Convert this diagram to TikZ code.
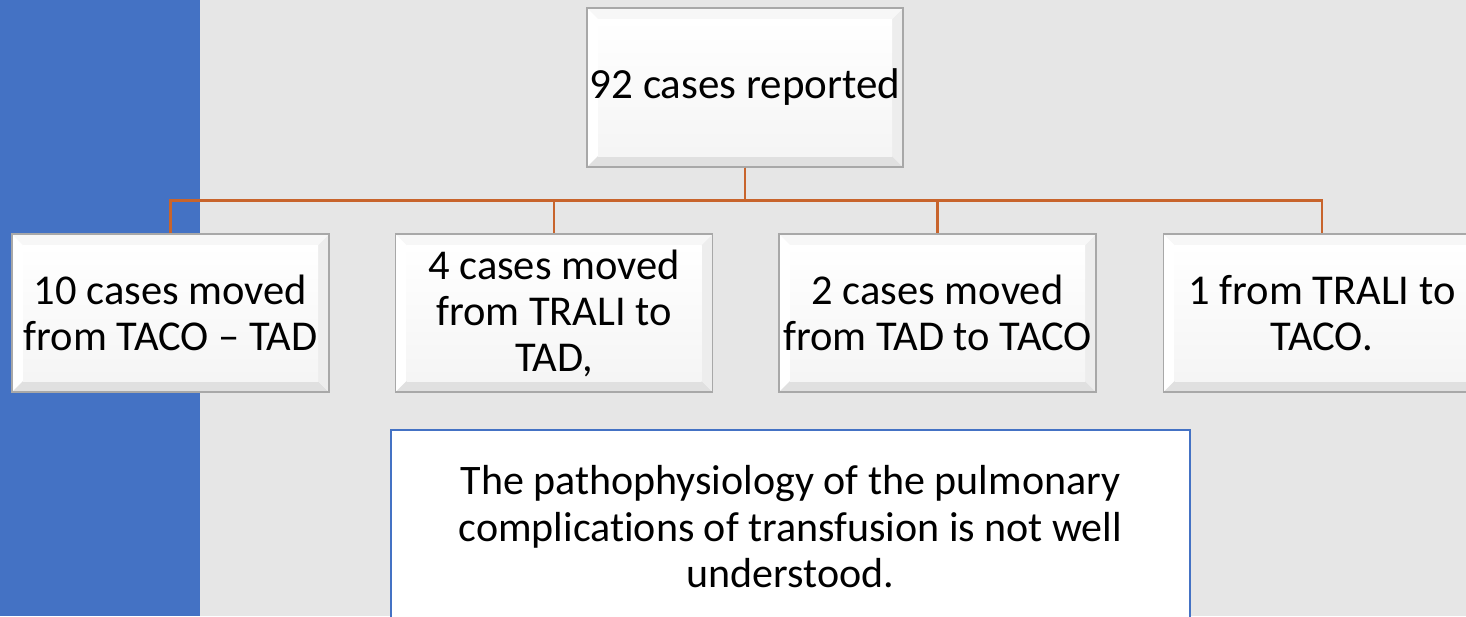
\documentclass[tikz,border=0pt]{standalone}
\usepackage{fontspec}
\setmainfont{Carlito}[Ligatures={NoCommon}]
\usetikzlibrary{calc}
\definecolor{bgray}{HTML}{E6E6E6}
\definecolor{bandblue}{HTML}{4472C4}
\definecolor{connorange}{HTML}{C8642C}
\definecolor{boxedge}{HTML}{A8A8A8}
\tikzset{
  bevelbox/.style={rectangle, fill=white, draw=boxedge, line width=1.2pt,
    minimum width=317pt, minimum height=158pt, inner sep=0pt, align=center,
    font=\fontsize{42.5}{46}\selectfont,
    path picture={
      \coordinate (pSW) at (path picture bounding box.south west);
      \coordinate (pNE) at (path picture bounding box.north east);
      \coordinate (pSE) at (path picture bounding box.south east);
      \coordinate (pNW) at (path picture bounding box.north west);
      \fill[black!12] (pSW) -- (pSE) -- ($(pSE)+(-11pt,11pt)$) -- ($(pSW)+(11pt,11pt)$) -- cycle;
      \fill[black!7] (pSE) -- (pNE) -- ($(pNE)+(-11pt,-11pt)$) -- ($(pSE)+(-11pt,11pt)$) -- cycle;
      \fill[black!3] (pNW) -- (pNE) -- ($(pNE)+(-11pt,-11pt)$) -- ($(pNW)+(11pt,-11pt)$) -- cycle;
      \shade[top color=white, bottom color=black!4] ($(pNW)+(11pt,-11pt)$) rectangle ($(pSE)+(-11pt,11pt)$);
    }},
  conn/.style={draw=connorange, line width=2.8pt},
  notebox/.style={rectangle, fill=white, draw=bandblue, line width=1.8pt,
    minimum width=799pt, minimum height=194pt, inner sep=0pt, align=center,
    font=\fontsize{42}{46.5}\selectfont}
}
\begin{document}
\begin{tikzpicture}[x=1pt,y=-1pt]
  \useasboundingbox (0,0) rectangle (1466,616);
  \clip (0,0) rectangle (1466,616);
  \fill[bgray] (0,0) rectangle (1466,616);
  \fill[bandblue] (0,0) rectangle (200,616);

  \node[bevelbox, minimum width=316pt, minimum height=159pt, font=\fontsize{43}{48}\selectfont] (top) at (745,87.5) {92 cases reported};

  \node[bevelbox] (b1) at (170.5,313) {10 cases moved\\from TACO -- TAD};
  \node[bevelbox] (b2) at (554,313) {4 cases moved\\from TRALI to\\TAD,};
  \node[bevelbox] (b3) at (937.5,313) {2 cases moved\\from TAD to TACO};
  \node[bevelbox] (b4) at (1322,313) {1 from TRALI to\\TACO.};

  \foreach \c in {b1,b2,b3,b4}{
    \draw[conn] (top.south) -- ++(0,33) -| (\c.north);
  }

  \node[notebox] (note) at (790.5,527) {The pathophysiology of the pulmonary\\complications of transfusion is not well\\understood.};
\end{tikzpicture}
\end{document}
